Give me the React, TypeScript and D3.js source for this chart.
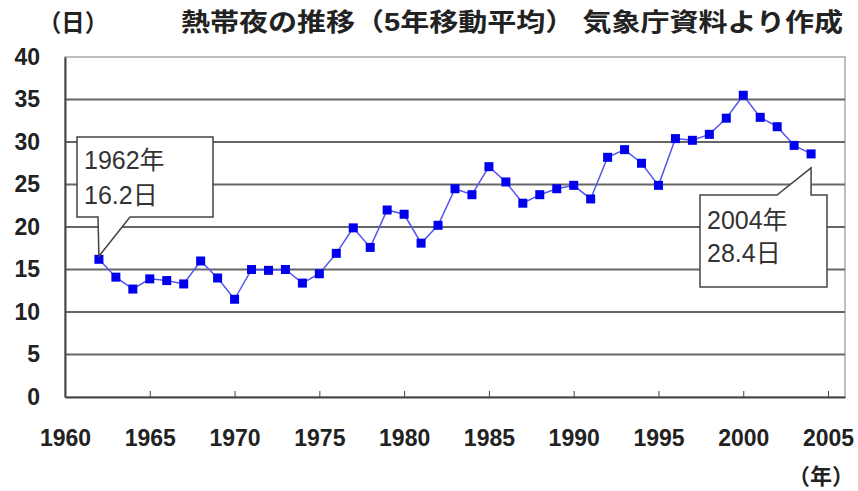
import React, { useEffect, useRef } from 'react';
import * as d3 from 'd3';

// 熱帯夜の日数（5年移動平均）
const years = [1962, 1963, 1964, 1965, 1966, 1967, 1968, 1969, 1970, 1971, 1972, 1973, 1974, 1975,
    1976, 1977, 1978, 1979, 1980, 1981, 1982, 1983, 1984, 1985, 1986, 1987, 1988, 1989, 1990,
    1991, 1992, 1993, 1994, 1995, 1996, 1997, 1998, 1999, 2000, 2001, 2002, 2003, 2004];
const nights = [16.2, 14.1, 12.7, 13.9, 13.7, 13.3, 16.0, 14.0, 11.5, 15.0, 14.9, 15.0, 13.4, 14.5,
    16.9, 19.9, 17.6, 22.0, 21.5, 18.1, 20.2, 24.5, 23.8, 27.1, 25.3, 22.8, 23.8, 24.5, 24.9,
    23.3, 28.2, 29.1, 27.5, 24.9, 30.4, 30.2, 30.9, 32.8, 35.5, 32.9, 31.8, 29.6, 28.6];
const xTicks = [1960, 1965, 1970, 1975, 1980, 1985, 1990, 1995, 2000, 2005];
const yTicks = [0, 5, 10, 15, 20, 25, 30, 35, 40];
const title = '熱帯夜の推移（5年移動平均） 気象庁資料より作成';

const W = 858, H = 491;
const left = 65, right = 845, top = 57, bottom = 397;
const font = '"Liberation Sans", "Noto Sans CJK JP", sans-serif';

const App = () => {
    const ref = useRef(null);

    useEffect(() => {
        const svg = d3.select(ref.current);
        svg.selectAll('*').remove();

        const x = d3.scaleLinear().domain([1960, 2006]).range([left, right]);
        const y = d3.scaleLinear().domain([0, 40]).range([bottom, top]);

        // plot frame
        svg.append('rect')
            .attr('x', left).attr('y', top)
            .attr('width', right - left).attr('height', bottom - top)
            .attr('fill', '#fff').attr('stroke', '#aaa').attr('stroke-width', 1.5);

        // grid lines
        svg.append('g').selectAll('line')
            .data(yTicks.filter(d => d > 0 && d < 40))
            .enter().append('line')
            .attr('x1', left).attr('x2', right)
            .attr('y1', d => y(d)).attr('y2', d => y(d))
            .attr('stroke', '#666').attr('stroke-width', 2);

        const tickText = sel => sel
            .attr('font-family', font).attr('font-size', 23).attr('fill', '#222')
            .attr('font-weight', 'bold');

        // y axis
        const ya = svg.append('g')
            .attr('transform', `translate(${left},0)`)
            .call(d3.axisLeft(y).tickValues(yTicks).tickSize(0).tickPadding(25));
        ya.select('.domain').attr('stroke', '#444').attr('stroke-width', 2);
        tickText(ya.selectAll('text'));

        // x axis, ticks pointing up
        const xa = svg.append('g')
            .attr('transform', `translate(0,${bottom})`)
            .call(d3.axisBottom(x).tickValues(xTicks).tickSizeInner(-6).tickSizeOuter(0).tickPadding(33)
                .tickFormat(d3.format('d')));
        xa.select('.domain').attr('stroke', '#444').attr('stroke-width', 2);
        xa.selectAll('line').attr('stroke', '#444');
        tickText(xa.selectAll('text'));

        // line + markers
        const pts = years.map((yr, i) => [yr, nights[i]]);
        svg.append('path')
            .datum(pts)
            .attr('fill', 'none').attr('stroke', '#5555ee').attr('stroke-width', 1.5)
            .attr('d', d3.line().x(d => x(d[0])).y(d => y(d[1])));
        svg.append('g').selectAll('rect')
            .data(pts)
            .enter().append('rect')
            .attr('x', d => x(d[0]) - 4.5).attr('y', d => y(d[1]) - 4.5)
            .attr('width', 9).attr('height', 9)
            .attr('fill', '#0000ee');

        // callouts
        const p0 = [x(years[0]), y(nights[0])];
        const pn = [x(years[years.length - 1]), y(nights[nights.length - 1])];
        const c1 = { x0: 77, y0: 137, x1: 213, y1: 217 };
        svg.append('path')
            .attr('d', `M${c1.x0},${c1.y0}H${c1.x1}V${c1.y1}H130L${p0[0]},${p0[1] - 3}L98,${c1.y1}H${c1.x0}Z`)
            .attr('fill', '#fff').attr('stroke', '#444').attr('stroke-width', 1.5);
        const c2 = { x0: 700, y0: 195, x1: 827, y1: 287 };
        svg.append('path')
            .attr('d', `M${c2.x0},${c2.y0}H777L${pn[0]},${pn[1] + 14}V${c2.y0}H${c2.x1}V${c2.y1}H${c2.x0}Z`)
            .attr('fill', '#fff').attr('stroke', '#444').attr('stroke-width', 1.5);

        const label = (tx, ty, s) => svg.append('text')
            .attr('x', tx).attr('y', ty).text(s)
            .attr('font-family', font).attr('font-size', 25).attr('fill', '#333');
        label(84, 169, '1962年');
        label(84, 204, '16.2日');
        label(707, 229, '2004年');
        label(707, 262, '28.4日');

        // titles
        svg.append('text').attr('x', 38).attr('y', 31).text('（日）')
            .attr('textLength', 70).attr('lengthAdjust', 'spacingAndGlyphs')
            .attr('font-family', font).attr('font-size', 24).attr('fill', '#222').attr('font-weight', 600);
        svg.append('text').attr('x', 181).attr('y', 31).text(title)
            .attr('textLength', 662).attr('lengthAdjust', 'spacingAndGlyphs')
            .attr('font-family', font).attr('font-size', 25).attr('fill', '#222').attr('font-weight', 600);
        svg.append('text').attr('x', 788).attr('y', 484).text('（年）')
            .attr('font-family', font).attr('font-size', 22).attr('fill', '#222').attr('font-weight', 600);
    }, []);

    return (
        <div style={{ position: 'absolute', left: 0, top: 0 }}>
            <svg ref={ref} width={W} height={H} viewBox={`0 0 ${W} ${H}`} style={{ display: 'block', background: '#fff' }} />
        </div>
    );
};

export default App;
